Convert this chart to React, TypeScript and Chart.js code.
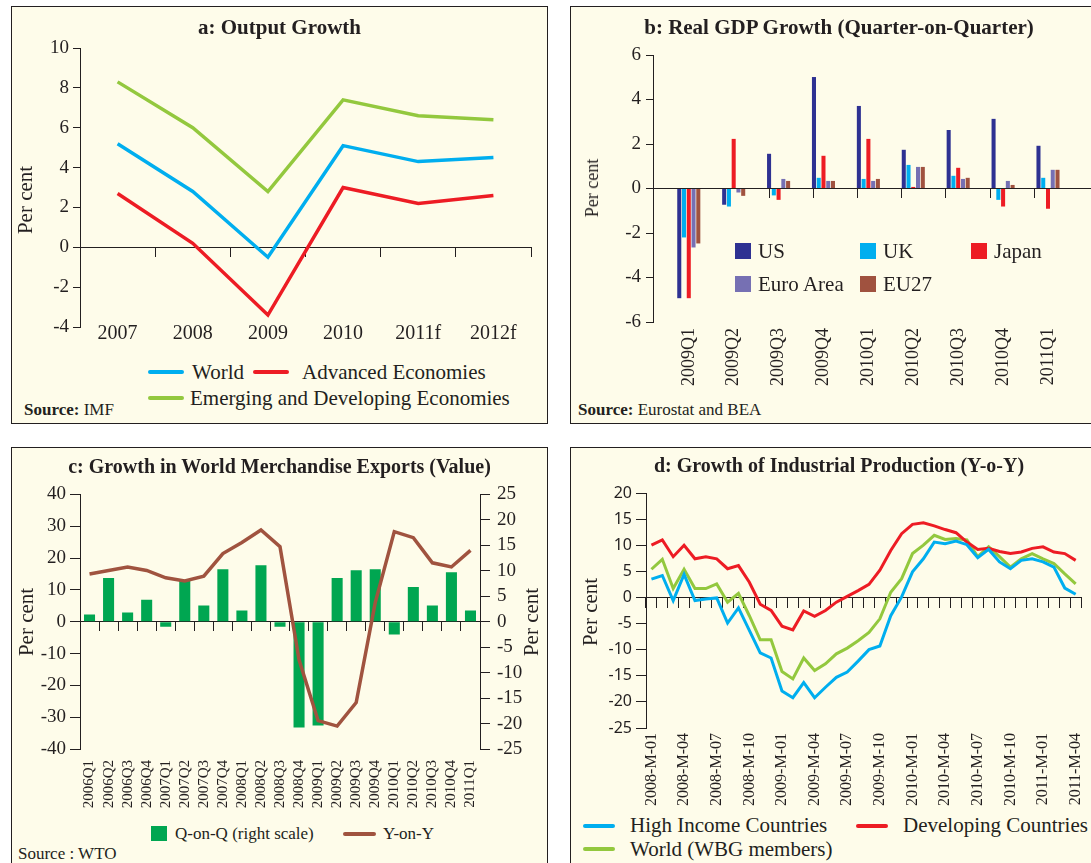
import React, { useEffect, useRef } from 'react';
import { Chart, registerables } from 'chart.js';

Chart.register(...registerables);

const INK = '#231F20';
const CREAM = '#FEFCEA';
const SERIF = '"Liberation Serif", "Times New Roman", serif';
const SANS = '"Noto Sans", "Open Sans", sans-serif';

const BLUE = '#00AEEF';
const RED = '#ED1C24';
const LIME = '#93C83E';
const NAVY = '#2E3192';
const LAVENDER = '#7670B3';
const BROWN = '#A0523F';
const GREEN = '#00A651';
const RUST = '#A0533F';

// ---------- a: Output Growth ----------
const yearsA = ['2007', '2008', '2009', '2010', '2011f', '2012f'];
const worldA = [5.2, 2.8, -0.5, 5.1, 4.3, 4.5];
const advancedA = [2.7, 0.2, -3.4, 3.0, 2.2, 2.6];
const emergingA = [8.3, 6.0, 2.8, 7.4, 6.6, 6.4];

// ---------- b: Real GDP Growth (QoQ) ----------
const quartersB = ['2009Q1', '2009Q2', '2009Q3', '2009Q4', '2010Q1', '2010Q2', '2010Q3', '2010Q4', '2011Q1'];
const usB = [-4.93, -0.73, 1.56, 5.01, 3.71, 1.74, 2.63, 3.13, 1.92];
const ukB = [-2.2, -0.81, -0.31, 0.48, 0.43, 1.06, 0.57, -0.51, 0.48];
const japanB = [-4.93, 2.23, -0.51, 1.47, 2.23, 0.07, 0.93, -0.81, -0.91];
const euroAreaB = [-2.65, -0.18, 0.43, 0.34, 0.34, 0.97, 0.43, 0.34, 0.84];
const eu27B = [-2.47, -0.33, 0.34, 0.34, 0.43, 0.97, 0.48, 0.16, 0.84];

// ---------- c: World Merchandise Exports ----------
const quartersC = ['2006Q1', '2006Q2', '2006Q3', '2006Q4', '2007Q1', '2007Q2', '2007Q3', '2007Q4', '2008Q1', '2008Q2', '2008Q3', '2008Q4', '2009Q1', '2009Q2', '2009Q3', '2009Q4', '2010Q1', '2010Q2', '2010Q3', '2010Q4', '2011Q1'];
const qoqC = [1.4, 8.6, 1.8, 4.3, -1.0, 8.0, 3.2, 10.3, 2.2, 11.1, -1.0, -20.8, -20.4, 8.6, 10.1, 10.3, -2.5, 6.8, 3.2, 9.7, 2.2];
const yoyC = [15.0, 16.1, 17.2, 16.1, 13.8, 12.8, 14.3, 21.4, 24.9, 28.8, 23.6, -12.0, -31.1, -32.8, -25.4, 6.0, 28.3, 26.4, 18.5, 17.2, 22.4];

// ---------- d: Industrial Production (YoY) ----------
const monthsD = [
  '2008-M-01', '2008-M-02', '2008-M-03', '2008-M-04', '2008-M-05', '2008-M-06', '2008-M-07', '2008-M-08', '2008-M-09', '2008-M-10', '2008-M-11', '2008-M-12',
  '2009-M-01', '2009-M-02', '2009-M-03', '2009-M-04', '2009-M-05', '2009-M-06', '2009-M-07', '2009-M-08', '2009-M-09', '2009-M-10', '2009-M-11', '2009-M-12',
  '2010-M-01', '2010-M-02', '2010-M-03', '2010-M-04', '2010-M-05', '2010-M-06', '2010-M-07', '2010-M-08', '2010-M-09', '2010-M-10', '2010-M-11', '2010-M-12',
  '2011-M-01', '2011-M-02', '2011-M-03', '2011-M-04',
];
const highIncomeD = [3.5, 4.2, -0.6, 4.4, -0.6, -0.3, -0.1, -4.9, -2.0, -6.3, -10.6, -11.6, -17.9, -19.2, -16.3, -19.2, -17.2, -15.3, -14.3, -12.2, -10.0, -9.3, -3.5, 0.1, 4.9, 7.4, 10.6, 10.3, 10.8, 10.1, 7.6, 9.2, 6.8, 5.5, 7.1, 7.4, 6.8, 5.8, 1.8, 0.6];
const developingD = [10.0, 11.0, 7.8, 10.0, 7.4, 7.8, 7.4, 5.5, 6.1, 2.9, -1.3, -2.5, -5.5, -6.2, -2.6, -3.6, -2.5, -0.9, 0.2, 1.3, 2.5, 5.2, 9.0, 12.2, 14.0, 14.3, 13.7, 13.0, 12.4, 10.6, 9.2, 9.4, 8.8, 8.4, 8.7, 9.4, 9.7, 8.7, 8.4, 7.1];
const worldD = [5.4, 7.3, 1.7, 5.4, 1.7, 1.7, 2.6, -0.9, 0.8, -3.5, -8.1, -8.1, -14.2, -15.6, -11.6, -14.0, -12.7, -10.8, -9.7, -8.3, -6.7, -4.1, 1.0, 3.6, 8.4, 10.0, 11.9, 11.1, 11.3, 11.0, 7.8, 9.7, 7.8, 5.8, 7.4, 8.4, 7.4, 6.5, 4.5, 2.6];

// ---------- helpers ----------
type Rect = { left: number; top: number; width: number; height: number };

function baseOptions(padding: any) {
  return {
    responsive: false,
    maintainAspectRatio: false,
    animation: false,
    devicePixelRatio: 1,
    events: [],
    layout: { padding },
    plugins: { legend: { display: false }, title: { display: false }, tooltip: { enabled: false } },
  };
}

function valueAxis(o: { min: number; max: number; step: number; width: number; font: any; tickLength: number; padding: number; position?: string }) {
  return {
    type: 'linear',
    position: o.position || 'left',
    min: o.min,
    max: o.max,
    ticks: { stepSize: o.step, color: INK, font: o.font, padding: o.padding, autoSkip: false },
    grid: { display: true, drawOnChartArea: false, drawTicks: true, tickLength: o.tickLength, color: INK, lineWidth: 1 },
    border: { display: true, color: INK, width: 1 },
    afterFit: (s: any) => { s.width = o.width; },
  };
}

function labelAxis(o: { font: any; padding: number; height: number; rotation: number; callback?: any }) {
  const ticks: any = { color: INK, font: o.font, padding: o.padding, autoSkip: false, minRotation: o.rotation, maxRotation: o.rotation };
  if (o.callback) ticks.callback = o.callback;
  return {
    type: 'category',
    position: 'bottom',
    offset: true,
    grid: { display: false, drawTicks: false },
    border: { display: false },
    ticks,
    afterFit: (s: any) => { s.height = o.height; },
  };
}

function zeroAxis(labels: string[], tickLength: number) {
  return {
    type: 'category',
    axis: 'x',
    labels,
    offset: true,
    position: { y: 0 },
    ticks: { display: false, autoSkip: false },
    grid: { display: true, drawOnChartArea: false, drawTicks: true, tickLength, offset: true, color: INK, lineWidth: 1 },
    border: { display: true, color: INK, width: 1 },
  };
}

function ChartCanvas({ rect, make }: { rect: Rect; make: () => any }) {
  const ref = useRef<HTMLCanvasElement | null>(null);
  useEffect(() => {
    if (!ref.current) return;
    const chart = new Chart(ref.current, make());
    return () => chart.destroy();
  }, []);
  return (
    <canvas
      ref={ref}
      width={rect.width}
      height={rect.height}
      style={{ position: 'absolute', left: rect.left, top: rect.top, width: rect.width, height: rect.height }}
    />
  );
}

function Txt(props: { x: number; y: number; children: any; size?: number; bold?: boolean; align?: 'left' | 'center' | 'right'; rotate?: boolean; family?: string }) {
  const { x, y, children, size = 21, bold = false, align = 'left', rotate = false, family = SERIF } = props;
  const tx = align === 'left' ? '0' : align === 'center' ? '-50%' : '-100%';
  return (
    <div
      style={{
        position: 'absolute',
        left: x,
        top: y,
        transform: rotate ? 'translate(-50%, -50%) rotate(-90deg)' : `translate(${tx}, -50%)`,
        whiteSpace: 'nowrap',
        fontFamily: family,
        fontSize: size,
        fontWeight: bold ? 'bold' : 'normal',
        lineHeight: 1,
        color: INK,
      }}
    >
      {children}
    </div>
  );
}

const LineKey = ({ x, y, w, color }: { x: number; y: number; w: number; color: string }) => (
  <div style={{ position: 'absolute', left: x, top: y - 2, width: w, height: 4, background: color, borderRadius: 2 }} />
);
const BoxKey = ({ x, y, w, h, color }: { x: number; y: number; w: number; h: number; color: string }) => (
  <div style={{ position: 'absolute', left: x, top: y - h / 2, width: w, height: h, background: color }} />
);

const Panel = ({ r }: { r: Rect }) => (
  <div style={{ position: 'absolute', left: r.left, top: r.top, width: r.width, height: r.height, boxSizing: 'border-box', border: `1px solid ${INK}`, background: CREAM }} />
);

// ---------- chart configs ----------
const lineStyle = { borderWidth: 3.5, pointRadius: 0, tension: 0, fill: false, xAxisID: 'x', yAxisID: 'y' };

const A_MIN = -4;
const rectA: Rect = { left: 12, top: 30, width: 528, height: 320 };
const makeA = () => ({
  type: 'line',
  data: {
    labels: yearsA,
    datasets: [
      { label: 'World', data: worldA, borderColor: BLUE, ...lineStyle },
      { label: 'Advanced Economies', data: advancedA, borderColor: RED, ...lineStyle },
      { label: 'Emerging and Developing Economies', data: emergingA, borderColor: LIME, ...lineStyle },
    ],
  },
  options: {
    ...baseOptions({ top: 18, right: 9, left: 0, bottom: 23 }),
    scales: {
      x: {
        type: 'category',
        position: { y: A_MIN },
        offset: true,
        grid: { display: false, drawTicks: false },
        border: { display: false },
        ticks: { color: INK, font: { family: SERIF, size: 20 }, padding: -5, autoSkip: false, maxRotation: 0, minRotation: 0 },
      },
      x2: zeroAxis(yearsA, 9),
      y: valueAxis({ min: A_MIN, max: 10, step: 2, width: 68, font: { family: SERIF, size: 19 }, tickLength: 7, padding: 4 }),
    },
  },
});

const B_MIN = -0.25;
const B_MAX = 8.5;
const rectB: Rect = { left: 580, top: 38, width: 525, height: 357 };
const barB = (label: string, values: number[], color: string) => ({
  label,
  data: values.map((v, i) => ({ x: i, y: v })),
  backgroundColor: color,
  borderWidth: 0,
  categoryPercentage: 0.53,
  barPercentage: 0.85,
  xAxisID: 'x',
  yAxisID: 'y',
});
const makeB = () => ({
  type: 'bar',
  data: {
    datasets: [
      barB('US', usB, NAVY),
      barB('UK', ukB, BLUE),
      barB('Japan', japanB, RED),
      barB('Euro Area', euroAreaB, LAVENDER),
      barB('EU27', eu27B, BROWN),
    ],
  },
  options: {
    ...baseOptions({ top: 17, right: 10, left: 0, bottom: 0 }),
    scales: {
      x: {
        type: 'linear',
        position: 'bottom',
        min: B_MIN,
        max: B_MAX,
        afterBuildTicks: (s: any) => { s.ticks = quartersB.map((_, i) => ({ value: i })); },
        grid: { display: false, drawTicks: false },
        border: { display: false },
        ticks: {
          color: INK,
          font: { family: SERIF, size: 18 },
          padding: 6,
          autoSkip: false,
          minRotation: 90,
          maxRotation: 90,
          callback: (v: number) => quartersB[v] ?? '',
        },
        afterFit: (s: any) => { s.height = 73; },
      },
      x2: {
        type: 'linear',
        axis: 'x',
        min: B_MIN,
        max: B_MAX,
        position: { y: 0 },
        afterBuildTicks: (s: any) => { s.ticks = quartersB.slice(0, -1).map((_, i) => ({ value: i + 0.25 })); },
        ticks: { display: false, autoSkip: false },
        grid: { display: true, drawOnChartArea: false, drawTicks: true, tickLength: 9, color: INK, lineWidth: 1 },
        border: { display: true, color: INK, width: 1 },
      },
      y: valueAxis({ min: -6, max: 6, step: 2, width: 73, font: { family: SERIF, size: 19 }, tickLength: 7, padding: 5 }),
    },
  },
});

const rectC: Rect = { left: 12, top: 476, width: 534, height: 336 };
const makeC = () => ({
  type: 'bar',
  data: {
    labels: quartersC,
    datasets: [
      { type: 'line', label: 'Y-on-Y', data: yoyC, borderColor: RUST, borderWidth: 3.5, pointRadius: 0, tension: 0, fill: false, xAxisID: 'x', yAxisID: 'y', order: 0 },
      { type: 'bar', label: 'Q-on-Q (right scale)', data: qoqC, backgroundColor: GREEN, borderWidth: 0, categoryPercentage: 1, barPercentage: 0.58, xAxisID: 'x', yAxisID: 'y2', order: 1 },
    ],
  },
  options: {
    ...baseOptions({ top: 15, right: 0, left: 0, bottom: 0 }),
    scales: {
      x: labelAxis({ font: { family: SERIF, size: 15 }, padding: 11, height: 63, rotation: 90 }),
      x2: zeroAxis(quartersC, 9),
      y: valueAxis({ min: -40, max: 40, step: 10, width: 68, font: { family: SERIF, size: 19 }, tickLength: 10, padding: 4 }),
      y2: valueAxis({ min: -25, max: 25, step: 5, width: 66, font: { family: SERIF, size: 19 }, tickLength: 10, padding: 7, position: 'right' }),
    },
  },
});

const rectD: Rect = { left: 572, top: 478, width: 528, height: 332 };
const lineD = (label: string, values: number[], color: string) => ({ label, data: values, borderColor: color, ...lineStyle, borderWidth: 3 });
const makeD = () => ({
  type: 'line',
  data: {
    labels: monthsD,
    datasets: [
      lineD('High Income Countries', highIncomeD, BLUE),
      lineD('Developing Countries', developingD, RED),
      lineD('World (WBG members)', worldD, LIME),
    ],
  },
  options: {
    ...baseOptions({ top: 15, right: 11, left: 0, bottom: 0 }),
    scales: {
      x: labelAxis({
        font: { family: SERIF, size: 16 },
        padding: 5,
        height: 82,
        rotation: 90,
        callback: (_v: any, i: number) => (i % 3 === 0 ? monthsD[i] : ''),
      }),
      x2: zeroAxis(monthsD, 10),
      y: valueAxis({ min: -25, max: 20, step: 5, width: 74, font: { family: SANS, size: 16 }, tickLength: 10, padding: 4 }),
    },
  },
});

// ---------- layout ----------
const panelA: Rect = { left: 11, top: 6, width: 537, height: 418 };
const panelB: Rect = { left: 570, top: 6, width: 538, height: 418 };
const panelC: Rect = { left: 11, top: 447, width: 537, height: 440 };
const panelD: Rect = { left: 570, top: 447, width: 538, height: 440 };

export default function App() {
  return (
    <div style={{ position: 'fixed', left: 0, top: 0, width: 1091, height: 863, overflow: 'hidden', background: '#ffffff' }}>
      <Panel r={panelA} />
      <Panel r={panelB} />
      <Panel r={panelC} />
      <Panel r={panelD} />

      <ChartCanvas rect={rectA} make={makeA} />
      <ChartCanvas rect={rectB} make={makeB} />
      <ChartCanvas rect={rectC} make={makeC} />
      <ChartCanvas rect={rectD} make={makeD} />

      {/* Panel a */}
      <Txt x={279.5} y={27} bold align="center">a: Output Growth</Txt>
      <Txt x={25} y={200} rotate>Per cent</Txt>
      <LineKey x={148} y={372} w={36} color={BLUE} />
      <Txt x={192} y={372}>World</Txt>
      <LineKey x={253} y={372} w={36} color={RED} />
      <Txt x={302} y={372}>Advanced Economies</Txt>
      <LineKey x={148} y={398} w={36} color={LIME} />
      <Txt x={190} y={398}>Emerging and Developing Economies</Txt>
      <Txt x={24} y={409} size={17}><b>Source:</b> IMF</Txt>

      {/* Panel b */}
      <Txt x={839} y={27} bold align="center">b: Real GDP Growth (Quarter-on-Quarter)</Txt>
      <Txt x={592} y={188} size={18} rotate>Per cent</Txt>
      <BoxKey x={735} y={251} w={16} h={16} color={NAVY} />
      <Txt x={758} y={251}>US</Txt>
      <BoxKey x={860} y={251} w={16} h={16} color={BLUE} />
      <Txt x={883} y={251}>UK</Txt>
      <BoxKey x={971} y={251} w={16} h={16} color={RED} />
      <Txt x={994} y={251}>Japan</Txt>
      <BoxKey x={735} y={284} w={16} h={16} color={LAVENDER} />
      <Txt x={758} y={284}>Euro Area</Txt>
      <BoxKey x={860} y={284} w={16} h={16} color={BROWN} />
      <Txt x={883} y={284}>EU27</Txt>
      <Txt x={578} y={409} size={17}><b>Source:</b> Eurostat and BEA</Txt>

      {/* Panel c */}
      <Txt x={279.5} y={466} bold align="center" size={20}>c: Growth in World Merchandise Exports (Value)</Txt>
      <Txt x={26} y={622} rotate>Per cent</Txt>
      <Txt x={531} y={622} rotate>Per cent</Txt>
      <BoxKey x={151} y={833} w={16} h={15} color={GREEN} />
      <Txt x={175} y={833} size={17}>Q-on-Q (right scale)</Txt>
      <LineKey x={343} y={834} w={33} color={RUST} />
      <Txt x={383} y={833} size={17}>Y-on-Y</Txt>
      <Txt x={18} y={853} size={17}>Source : WTO</Txt>

      {/* Panel d */}
      <Txt x={839} y={465} bold align="center" size={20}>d: Growth of Industrial Production (Y-o-Y)</Txt>
      <Txt x={590} y={612} rotate>Per cent</Txt>
      <LineKey x={583} y={826} w={32} color={BLUE} />
      <Txt x={630} y={825}>High Income Countries</Txt>
      <LineKey x={856} y={826} w={32} color={RED} />
      <Txt x={903} y={825}>Developing Countries</Txt>
      <LineKey x={583} y={849} w={32} color={LIME} />
      <Txt x={630} y={849}>World (WBG members)</Txt>
    </div>
  );
}
